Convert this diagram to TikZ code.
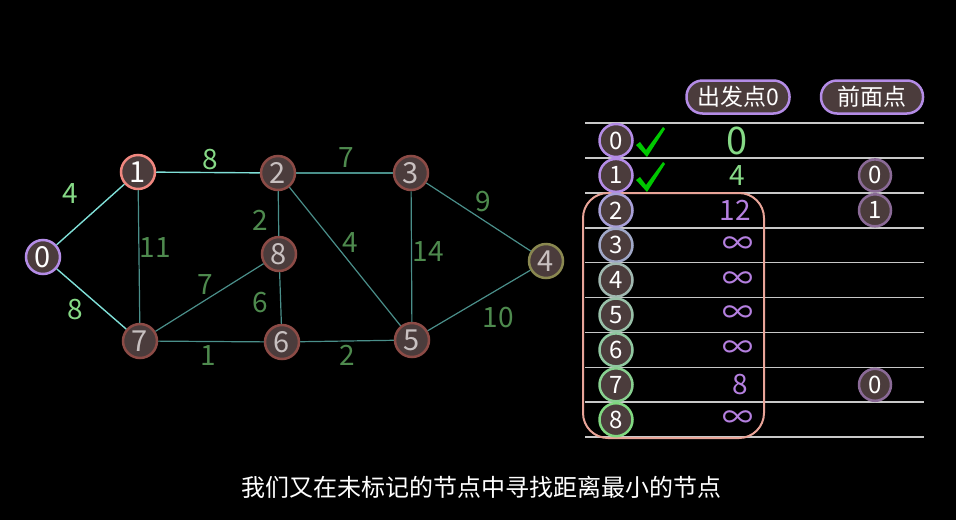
\documentclass[tikz,border=0pt]{standalone}
\usepackage{fontspec}
\setmainfont{Noto Sans CJK SC}
\usetikzlibrary{positioning}
\definecolor{nodefill}{RGB}{75,60,60}
\definecolor{purp}{RGB}{180,140,230}
\definecolor{salmon}{RGB}{240,135,127}
\definecolor{rust}{RGB}{140,75,70}
\definecolor{olive}{RGB}{138,136,80}
\definecolor{hotedge}{RGB}{128,224,216}
\definecolor{coldedge}{RGB}{74,143,138}
\definecolor{hotnum}{RGB}{134,217,134}
\definecolor{coldnum}{RGB}{78,138,78}
\definecolor{rowline}{RGB}{200,200,200}
\definecolor{boxpink}{RGB}{232,164,152}
\definecolor{tick}{RGB}{0,200,0}
\definecolor{violet}{RGB}{181,128,224}
\definecolor{prevring}{RGB}{138,106,150}
\definecolor{greytext}{RGB}{200,192,192}
% row rings, purple -> green
\definecolor{ring0}{RGB}{180,140,230}
\definecolor{ring1}{RGB}{180,140,230}
\definecolor{ring2}{RGB}{168,160,216}
\definecolor{ring3}{RGB}{160,168,200}
\definecolor{ring4}{RGB}{160,184,176}
\definecolor{ring5}{RGB}{152,192,168}
\definecolor{ring6}{RGB}{144,200,160}
\definecolor{ring7}{RGB}{136,208,144}
\definecolor{ring8}{RGB}{128,216,128}
\tikzset{
    vertex/.style ={circle, draw=rust, line width=2.5pt, fill=nodefill, minimum size=34pt,
                    inner sep=0pt, text=greytext, font=\fontsize{29}{29}\selectfont},
    hot/.style = {draw=hotedge, line width=1.4pt},
    cold/.style = {draw=coldedge, line width=1.2pt},
    wt/.style = {text=coldnum, font=\fontsize{28}{28}\selectfont},
    rowball/.style = {circle, draw, line width=2.5pt, fill=nodefill, minimum size=33pt,
                    inner sep=0pt, text=white, font=\fontsize{24}{24}\selectfont},
    pill/.style = {draw=purp, line width=2.5pt, fill=nodefill, rounded corners=16pt,
                    minimum width=103pt, minimum height=33pt, text=white, font=\fontsize{23}{23}\selectfont},
    val/.style = {text=violet, font=\fontsize{28}{28}\selectfont}
}

\begin{document}
\begin{tikzpicture}[x=1pt,y=-1pt]
    \fill[black] (0,0) rectangle (956,520);
    \useasboundingbox (0,0) rectangle (956,520);

    % graph
    \node (n0) at (43,257) [vertex, draw=purp, text=white] {0};
    \node (n1) at (138,172) [vertex, draw=salmon, text=white] {1};
    \node (n2) at (278,173) [vertex] {2};
    \node (n3) at (411,173) [vertex] {3};
    \node (n4) at (546,261) [vertex, draw=olive] {4};
    \node (n5) at (412,340) [vertex] {5};
    \node (n6) at (282,342) [vertex] {6};
    \node (n7) at (140,341) [vertex] {7};
    \node (n8) at (279,254) [vertex] {8};

    \path (n0) edge[hot] (n1);
    \path (n0) edge[hot] (n7);
    \path (n1) edge[hot] (n2);
    \path (n1) edge[cold] (n7);
    \path (n2) edge[cold] (n3);
    \path (n2) edge[cold] (n8);
    \path (n2) edge[cold] (n5);
    \path (n8) edge[cold] (n7);
    \path (n8) edge[cold] (n6);
    \path (n7) edge[cold] (n6);
    \path (n6) edge[cold] (n5);
    \path (n3) edge[cold] (n5);
    \path (n3) edge[cold] (n4);
    \path (n5) edge[cold] (n4);

    \node (w01) at (70,194) [wt, text=hotnum] {4};
    \node (w07) at (75,310) [wt, text=hotnum] {8};
    \node (w12) at (210,160) [wt, text=hotnum] {8};
    \node (w17) at (155,248) [wt] {11};
    \node (w23) at (346,158) [wt] {7};
    \node (w28) at (260,220) [wt] {2};
    \node (w25) at (350,243) [wt] {4};
    \node (w78) at (205,285) [wt] {7};
    \node (w86) at (260,303) [wt] {6};
    \node (w76) at (208,356) [wt] {1};
    \node (w65) at (347,355) [wt] {2};
    \node (w35) at (428,252) [wt] {14};
    \node (w34) at (483,202) [wt] {9};
    \node (w54) at (498,318) [wt] {10};

    % table
    \node (hdist) at (738,97) [pill] {出发点0};
    \node (hprev) at (872,97) [pill, minimum width=102pt] {前面点};

    \foreach \k in {0,...,9}
        \draw[rowline, line width=1.6pt] (585,123+34.9*\k) -- (924,123+34.9*\k);

    \draw[boxpink, line width=2pt, rounded corners=25pt] (583,193) rectangle (764,438);

    \foreach \i in {0,...,8}
        \node (r\i) at (616,140.5+34.9*\i) [rowball, draw=ring\i] {\i};

    \foreach \i in {0,1}
        \fill[tick, shift={(650,143+35*\i)}] (-14,2) -- (-10,-1) -- (-4,7) -- (13,-16) -- (15,-14) -- (-3,14) -- cycle;

    \node (d0) at (737,140.5) [val, text=hotnum, font=\fontsize{38}{38}\selectfont] {0};
    \node (d1) at (737,175.4) [val, text=hotnum] {4};
    \node (d2) at (735,210.3) [val] {12};
    \foreach \i in {3,4,5,6,8}
        \node (d\i) at (738,140.5+34.9*\i) [val, font=\fontsize{31}{31}\selectfont] {∞};
    \node (d7) at (740,384.8) [val] {8};

    \node (p1) at (875,175.4) [rowball, draw=prevring, minimum size=32pt] {0};
    \node (p2) at (875,210.3) [rowball, draw=prevring, minimum size=32pt] {1};
    \node (p7) at (875,384.8) [rowball, draw=prevring, minimum size=32pt] {0};

    \node (caption) at (481,487) [text=white, font=\fontsize{24}{24}\selectfont] {我们又在未标记的节点中寻找距离最小的节点};
\end{tikzpicture}
\end{document}
